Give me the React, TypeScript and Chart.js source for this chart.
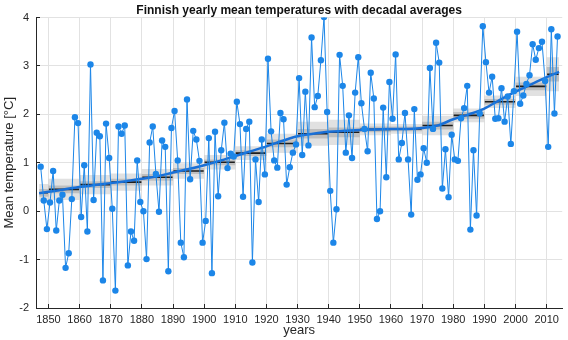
import React, { useEffect, useRef } from "react";
import { Chart, registerables } from "chart.js";

Chart.register(...registerables);

// ---- data ----
const startYear = 1847;
const temps = [
  0.92, 0.22, -0.37, // 1847-1849
  0.18, 0.83, -0.4, 0.22, 0.34, -1.17, -0.87, 0.25, 1.94, 1.82, // 1850s
  -0.12, 0.95, -0.42, 3.03, 0.23, 1.62, 1.55, -1.43, 1.81, 1.1, // 1860s
  0.05, -1.64, 1.75, 1.6, 1.77, -1.12, -0.42, -0.61, 1.05, 0.19, // 1870s
  0.0, -0.99, 1.42, 1.75, 0.77, -0.01, 1.46, 1.33, -1.24, 1.72, // 1880s
  2.07, 1.05, -0.65, -0.95, 2.31, 0.66, 1.66, 1.48, 1.04, -0.65, // 1890s
  -0.2, 1.51, -1.28, 1.64, 0.31, 1.26, 1.83, 0.89, 1.19, 1.13, // 1900s
  2.26, 1.8, 0.3, 1.7, 1.85, -1.06, 1.07, 0.19, 1.48, 0.76, // 1910s
  3.15, 1.65, 1.05, 0.9, 2.03, 1.9, 0.55, 0.91, 1.21, 1.38, // 1920s
  2.75, 1.16, 2.47, 1.36, 3.59, 2.15, 2.38, 3.12, 4.01, 2.05, // 1930s
  0.42, -0.65, 0.04, 3.23, 2.59, 1.21, 1.98, 1.1, 2.45, 3.18, // 1940s
  2.23, 1.7, 1.24, 2.86, 2.33, -0.16, 0.0, 2.14, 0.7, 2.67, // 1950s
  1.91, 3.24, 1.07, 1.41, 2.03, 1.07, -0.07, 2.11, 0.65, 0.76, // 1960s
  1.3, 1.0, 2.96, 1.7, 3.48, 3.07, 0.47, 1.28, 0.29, 1.58, // 1970s
  1.07, 1.04, 1.92, 2.13, 2.59, -0.38, 1.26, -0.09, 2.02, 3.82, // 1980s
  3.08, 2.45, 2.78, 1.91, 1.92, 2.54, 1.85, 2.37, 1.39, 2.48, // 1990s
  3.71, 2.22, 2.39, 2.63, 2.81, 3.45, 3.13, 3.37, 3.5, 2.69, // 2000s
  1.33, 3.76, 2.02, 3.61, // 2010-2013
];
const years = temps.map((_, i) => startYear + i);

const decadeStarts = [1847, 1850, 1860, 1870, 1880, 1890, 1900, 1910, 1920, 1930, 1940, 1950, 1960, 1970, 1980, 1990, 2000, 2010];
const decadeEnd = 2014;
const decadeMeans = [0.38, 0.45, 0.55, 0.6, 0.7, 0.83, 1.01, 1.2, 1.4, 1.6, 1.63, 1.69, 1.7, 1.77, 1.98, 2.26, 2.58, 2.83];
const outerHalf = [0.18, 0.22, 0.2, 0.18, 0.17, 0.16, 0.15, 0.14, 0.2, 0.25, 0.26, 0.12, 0.1, 0.2, 0.14, 0.13, 0.2, 0.35];
const innerHalf = [0.08, 0.08, 0.07, 0.07, 0.07, 0.06, 0.06, 0.06, 0.08, 0.1, 0.1, 0.06, 0.05, 0.08, 0.07, 0.06, 0.08, 0.15];

const trendYears = [1847, 1850, 1855, 1860, 1865, 1870, 1875, 1880, 1885, 1890, 1895, 1900, 1905, 1910, 1915, 1920, 1925, 1930, 1935, 1940, 1945, 1950, 1955, 1960, 1965, 1970, 1975, 1980, 1985, 1990, 1995, 2000, 2005, 2010, 2014];
const trendVals = [0.37, 0.4, 0.45, 0.5, 0.54, 0.58, 0.62, 0.67, 0.72, 0.8, 0.87, 0.95, 1.04, 1.14, 1.24, 1.34, 1.45, 1.55, 1.6, 1.64, 1.66, 1.68, 1.69, 1.7, 1.7, 1.72, 1.77, 1.9, 2.0, 2.12, 2.3, 2.47, 2.62, 2.77, 2.88];

const yTicks = [-2, -1, 0, 1, 2, 3, 4];
const xTickStep = 10;

const FONT = "'Liberation Sans', Arial, Helvetica, sans-serif";
const TXT = "#262626";
const BLUE = "#1c86e8";

function stepBand(half: number[], sign: number) {
  const pts = decadeStarts.map((s, i) => ({ x: s, y: decadeMeans[i] + sign * half[i] }));
  const last = decadeMeans.length - 1;
  pts.push({ x: decadeEnd, y: decadeMeans[last] + sign * half[last] });
  return pts;
}

function decadeSegments() {
  const pts: { x: number; y: number | null }[] = [];
  decadeStarts.forEach((s, i) => {
    const e = i + 1 < decadeStarts.length ? decadeStarts[i + 1] : decadeEnd;
    pts.push({ x: s + 0.15, y: decadeMeans[i] });
    pts.push({ x: e - 0.15, y: decadeMeans[i] });
    pts.push({ x: e - 0.1, y: null });
  });
  return pts;
}

const centerTitle = {
  id: "centerTitle",
  afterLayout(chart: any) {
    const t = chart.titleBlock;
    if (t) {
      t.left = chart.chartArea.left;
      t.right = chart.chartArea.right;
      t.width = t.right - t.left;
    }
  },
};

export default function App() {
  const ref = useRef<HTMLCanvasElement>(null);
  useEffect(() => {
    if (!ref.current) return;
    const chart = new Chart(ref.current, {
      type: "line",
      data: {
        datasets: [
          {
            data: years.map((y, i) => ({ x: y + 0.5, y: temps[i] })),
            borderColor: BLUE,
            backgroundColor: BLUE,
            borderWidth: 1,
            pointRadius: 3.2,
            pointBorderWidth: 0,
            pointBackgroundColor: BLUE,
            order: 0,
          },
          {
            data: trendYears.map((y, i) => ({ x: y, y: trendVals[i] })),
            borderColor: "#1a6fd6",
            borderWidth: 2.5,
            pointRadius: 0,
            tension: 0.4,
            cubicInterpolationMode: "monotone",
            order: 1,
          },
          {
            data: decadeSegments(),
            borderColor: "#1e1e1e",
            borderWidth: 1.6,
            pointRadius: 0,
            spanGaps: false,
            order: 2,
          },
          {
            data: stepBand(innerHalf, 1),
            borderColor: "rgba(0,0,0,0)",
            borderWidth: 0,
            pointRadius: 0,
            stepped: "before",
            fill: false,
            order: 3,
          },
          {
            data: stepBand(innerHalf, -1),
            borderColor: "rgba(0,0,0,0)",
            backgroundColor: "rgba(150,150,150,0.45)",
            borderWidth: 0,
            pointRadius: 0,
            stepped: "before",
            fill: "-1",
            order: 4,
          },
          {
            data: stepBand(outerHalf, 1),
            borderColor: "rgba(0,0,0,0)",
            borderWidth: 0,
            pointRadius: 0,
            stepped: "before",
            fill: false,
            order: 5,
          },
          {
            data: stepBand(outerHalf, -1),
            borderColor: "rgba(0,0,0,0)",
            backgroundColor: "rgba(200,200,200,0.55)",
            borderWidth: 0,
            pointRadius: 0,
            stepped: "before",
            fill: "-1",
            order: 6,
          },
        ],
      },
      options: {
        responsive: false,
        animation: false,
        events: [],
        layout: { padding: { left: 0, right: 2, top: -1, bottom: 0 } },
        plugins: {
          legend: { display: false },
          tooltip: { enabled: false },
          title: {
            display: true,
            text: "Finnish yearly mean temperatures with decadal averages",
            color: "#111",
            font: { family: FONT, size: 12, weight: "bold" },
            padding: { top: 0, bottom: 0 },
          },
        },
        scales: {
          x: {
            type: "linear",
            min: 1846,
            max: 2015,
            ticks: {
              stepSize: xTickStep,
              includeBounds: false,
              autoSkip: false,
              maxRotation: 0,
              color: TXT,
              font: { family: FONT, size: 11 },
              padding: 9,
              callback: (v: any) => String(v),
            },
            grid: { color: "#e2e2e2", lineWidth: 1, drawTicks: true, tickLength: -4, tickColor: TXT },
            border: { color: TXT, width: 1 },
            title: {
              display: true,
              text: "years",
              color: TXT,
              font: { family: FONT, size: 13 },
              padding: { top: 0, bottom: 2 },
            },
            afterFit: (s: any) => {
              s.height = 32;
            },
          },
          y: {
            type: "linear",
            min: yTicks[0],
            max: yTicks[yTicks.length - 1],
            afterBuildTicks: (s: any) => {
              s.ticks = yTicks.map((v) => ({ value: v }));
            },
            ticks: {
              color: TXT,
              font: { family: FONT, size: 11 },
              padding: 11,
            },
            grid: { color: "#e2e2e2", lineWidth: 1, drawTicks: true, tickLength: -4, tickColor: TXT },
            border: { color: TXT, width: 1 },
            title: {
              display: true,
              text: "Mean temperature [°C]",
              color: TXT,
              font: { family: FONT, size: 13 },
              padding: { top: 2, bottom: 0 },
            },
            afterFit: (s: any) => {
              s.width = 36;
            },
          },
        },
      } as any,
      plugins: [centerTitle],
    });
    return () => chart.destroy();
  }, []);

  return (
    <div style={{ position: "fixed", left: 0, top: 0, width: 568, height: 340, background: "#fff" }}>
      <canvas ref={ref} width={568} height={340} style={{ display: "block", width: 568, height: 340 }} />
    </div>
  );
}
